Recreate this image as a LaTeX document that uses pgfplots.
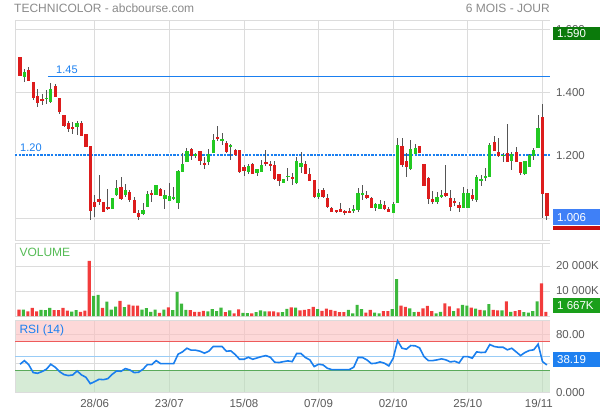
\documentclass[border=0pt]{standalone}
\usepackage{pgfplots}
\usepackage{pgfplotstable}
\usepackage{fontspec}
\setmainfont{Liberation Sans}
\pgfplotsset{compat=1.18}

\definecolor{gridgray}{HTML}{DCDCDC}
\definecolor{ticktext}{HTML}{5A5A5A}
\definecolor{titlegray}{HTML}{8A8A8A}
\definecolor{wick}{HTML}{555555}
\definecolor{candlered}{HTML}{DD1C1C}
\definecolor{candlegreen}{HTML}{22C922}
\definecolor{volred}{HTML}{F23C3C}
\definecolor{volgreen}{HTML}{3DB83D}
\definecolor{refblue}{HTML}{1A7FF0}
\definecolor{rsiblue}{HTML}{1A7FEE}
\definecolor{pinkfill}{HTML}{FCBEBE}
\definecolor{greenfill}{HTML}{BBDEBB}
\definecolor{line70}{HTML}{EE5A5A}
\definecolor{line50}{HTML}{99CCF6}
\definecolor{line30}{HTML}{5AAA5A}
\definecolor{boxgreen}{HTML}{0B7A0B}
\definecolor{boxblue}{HTML}{3F80F7}
\definecolor{boxvol}{HTML}{1A9F1A}
\definecolor{boxrsi}{HTML}{1E80F0}
\definecolor{boxred}{HTML}{C81010}
\definecolor{vollabel}{HTML}{55BB55}

\newcommand\tickfont{\fontsize{11.5bp}{13bp}\selectfont}
\newcommand\titlefont{\fontsize{12bp}{14bp}\selectfont}
\newcommand\lblfont{\fontsize{11bp}{13bp}\selectfont}

% i = trading day (0 = 28/06), o h l c = price, k = candle up (1) / down (0),
% v = volume (K), w = volume bar up (1) / down (0), rsi = RSI(14)
\pgfplotstableread{
i o h l c k v w rsi
-17 1.512 1.512 1.451 1.451 0 2600 0 39.2
-16 1.449 1.475 1.433 1.463 1 2600 1 44.2
-15 1.472 1.480 1.436 1.436 0 1900 0 38.3
-14 1.433 1.433 1.375 1.380 0 3300 0 27.7
-13 1.387 1.409 1.353 1.366 0 1900 0 26.8
-12 1.377 1.394 1.359 1.372 0 2500 1 29.1
-11 1.379 1.406 1.364 1.383 1 2400 1 32.3
-10 1.369 1.430 1.366 1.409 1 3300 1 39.2
-9 1.419 1.425 1.385 1.385 0 2400 0 35.1
-8 1.383 1.383 1.330 1.337 0 2400 0 29.1
-7 1.329 1.329 1.290 1.292 0 3300 0 25.0
-6 1.301 1.308 1.275 1.282 0 2200 0 23.6
-5 1.290 1.306 1.267 1.284 0 1800 1 24.5
-4 1.290 1.309 1.263 1.301 1 2400 1 30.0
-3 1.303 1.309 1.260 1.260 0 1700 0 24.5
-2 1.267 1.267 1.226 1.226 0 2200 0 21.3
-1 1.230 1.230 0.994 1.022 0 22100 0 12.5
0 1.052 1.073 1.004 1.034 0 8100 1 15.3
1 1.061 1.137 1.041 1.051 0 8500 1 18.5
2 1.050 1.050 1.020 1.020 0 3300 0 18.0
3 1.036 1.091 1.025 1.028 0 5800 1 19.4
4 1.030 1.064 1.030 1.063 1 2600 1 25.4
5 1.073 1.121 1.070 1.094 1 3800 1 30.0
6 1.097 1.130 1.057 1.059 0 6100 0 29.5
7 1.073 1.108 1.068 1.089 1 3600 1 33.2
8 1.084 1.089 1.052 1.057 0 4600 0 31.4
9 1.057 1.066 1.015 1.017 0 4200 0 27.7
10 1.015 1.025 0.994 1.002 0 4200 0 28.2
11 1.013 1.047 1.010 1.025 1 2600 1 32.3
12 1.036 1.087 1.034 1.076 1 3200 1 38.7
13 1.080 1.089 1.052 1.074 0 1700 1 38.7
14 1.073 1.105 1.073 1.105 1 2600 1 44.2
15 1.092 1.095 1.070 1.070 0 1300 0 40.1
16 1.059 1.089 1.030 1.073 1 2600 1 40.1
17 1.055 1.112 1.055 1.070 1 3500 0 40.1
18 1.061 1.099 1.058 1.067 1 2400 1 40.1
19 1.049 1.154 1.030 1.150 1 9700 1 53.0
20 1.147 1.208 1.147 1.171 1 5000 1 56.2
21 1.179 1.221 1.177 1.214 1 2500 1 61.2
22 1.218 1.224 1.184 1.197 0 2400 0 58.5
23 1.197 1.206 1.190 1.203 1 1700 0 58.5
24 1.212 1.212 1.168 1.182 0 1700 0 57.1
25 1.174 1.194 1.157 1.169 0 2100 0 54.4
26 1.177 1.218 1.168 1.202 1 1900 1 57.1
27 1.207 1.267 1.207 1.247 1 2800 1 63.6
28 1.258 1.292 1.244 1.251 0 2000 1 63.6
29 1.245 1.270 1.232 1.251 1 3400 1 63.6
30 1.240 1.245 1.207 1.210 0 1600 0 57.1
31 1.226 1.234 1.186 1.231 1 2300 1 57.6
32 1.216 1.220 1.198 1.200 0 1100 0 52.6
33 1.216 1.216 1.144 1.147 0 2700 0 46.0
34 1.161 1.168 1.135 1.148 0 1300 1 46.0
35 1.146 1.171 1.140 1.165 1 1200 1 48.8
36 1.173 1.175 1.140 1.140 0 1100 0 46.0
37 1.144 1.155 1.133 1.155 1 1600 1 47.9
38 1.147 1.184 1.147 1.168 1 2300 1 49.7
39 1.178 1.216 1.165 1.171 0 1900 1 51.1
40 1.173 1.182 1.150 1.167 0 1900 0 48.8
41 1.168 1.180 1.121 1.125 0 1900 0 42.0
42 1.139 1.139 1.103 1.118 0 1500 0 41.5
43 1.112 1.123 1.112 1.123 1 1600 1 42.8
44 1.130 1.158 1.118 1.134 1 2900 1 43.8
45 1.129 1.142 1.105 1.123 0 3500 0 42.8
46 1.112 1.194 1.108 1.181 1 3400 1 53.9
47 1.162 1.210 1.142 1.175 1 2300 0 53.9
48 1.173 1.182 1.140 1.140 0 2500 0 48.4
49 1.140 1.158 1.118 1.118 0 2800 0 45.2
50 1.121 1.121 1.063 1.068 0 3700 0 36.0
51 1.066 1.091 1.059 1.078 1 2800 1 39.2
52 1.089 1.095 1.063 1.066 0 2100 0 38.3
53 1.063 1.076 1.031 1.034 0 3000 0 33.7
54 1.031 1.036 1.020 1.020 0 2500 0 31.8
55 1.026 1.026 1.017 1.020 0 2100 0 31.8
56 1.029 1.049 1.020 1.020 0 1600 0 31.8
57 1.023 1.025 1.010 1.018 0 1600 0 31.8
58 1.021 1.033 1.016 1.017 0 2500 1 31.8
59 1.023 1.041 1.017 1.030 1 1100 1 35.1
60 1.025 1.094 1.020 1.078 1 4500 1 48.4
61 1.075 1.105 1.057 1.079 1 2800 1 48.4
62 1.073 1.085 1.059 1.063 0 1400 0 45.2
63 1.063 1.068 1.031 1.031 0 2500 0 40.1
64 1.031 1.049 1.023 1.044 1 1400 1 40.6
65 1.029 1.057 1.029 1.044 1 1100 1 42.4
66 1.040 1.054 1.025 1.028 0 2000 0 40.6
67 1.029 1.036 1.020 1.020 0 2000 0 36.9
68 1.017 1.052 1.017 1.043 1 2800 1 47.5
69 1.049 1.255 1.049 1.233 1 14800 1 71.4
70 1.229 1.253 1.161 1.168 0 4200 0 61.2
71 1.181 1.207 1.131 1.161 0 3700 0 59.9
72 1.155 1.247 1.152 1.218 1 3100 1 64.9
73 1.203 1.236 1.203 1.221 1 1600 1 64.5
74 1.229 1.229 1.206 1.206 0 1700 0 61.7
75 1.173 1.173 1.102 1.102 0 3100 0 49.7
76 1.126 1.131 1.044 1.059 0 4100 0 44.2
77 1.060 1.086 1.044 1.052 0 2000 0 44.2
78 1.052 1.083 1.044 1.066 1 1100 1 45.2
79 1.068 1.089 1.063 1.073 1 1700 1 46.6
80 1.078 1.168 1.066 1.070 0 5100 0 45.2
81 1.063 1.089 1.023 1.036 0 3900 0 42.4
82 1.054 1.063 1.038 1.047 0 2000 1 43.3
83 1.041 1.052 1.020 1.031 0 3100 0 41.0
84 1.031 1.097 1.031 1.078 1 4500 1 49.7
85 1.031 1.092 1.031 1.078 1 4200 1 49.7
86 1.073 1.091 1.055 1.059 0 3400 0 47.5
87 1.057 1.137 1.052 1.131 1 3000 1 56.2
88 1.120 1.137 1.103 1.124 1 2500 0 55.3
89 1.128 1.158 1.117 1.132 1 2300 1 55.7
90 1.131 1.237 1.131 1.232 1 4800 1 66.3
91 1.241 1.261 1.213 1.213 0 2500 0 63.6
92 1.211 1.253 1.194 1.197 0 2300 0 62.6
93 1.197 1.208 1.177 1.201 1 2300 1 62.6
94 1.208 1.298 1.177 1.177 0 5900 0 59.0
95 1.182 1.210 1.152 1.205 1 1700 1 61.2
96 1.210 1.226 1.177 1.177 0 2000 0 56.2
97 1.177 1.177 1.137 1.142 0 2400 0 51.1
98 1.140 1.181 1.137 1.181 1 1600 1 55.3
99 1.163 1.202 1.163 1.200 1 1400 1 58.1
100 1.197 1.221 1.184 1.216 1 2000 1 59.0
101 1.223 1.327 1.223 1.285 1 5900 1 66.8
102 1.322 1.364 0.999 1.075 0 13100 0 42.8
103 1.078 1.078 0.994 1.006 0 1667 0 38.19
}\prices

\tikzset{frame/.style={draw=gridgray, line width=0.8bp}}
\pgfplotsset{
  panel/.style={
    scale only axis, width=535bp, anchor=north west,
    xmin=-18.15, xmax=103.71,
    axis line style={draw=none},
    major tick length=0pt,
    grid=major, grid style={draw=gridgray, line width=0.8bp},
    xtick={0,17,34,51,68,85,102},
    xticklabels={},
    scaled y ticks=false,
    yticklabel pos=right,
    yticklabel style={font=\tickfont, text=ticktext, anchor=west, xshift=2.5bp},
    clip=false,
  },
}

\begin{document}
\begin{tikzpicture}
\useasboundingbox (0,0) rectangle (600bp,-414bp);

% price panel
\begin{axis}[panel, at={(15bp,-20bp)}, height=220bp,
  ymin=0.930, ymax=1.6296, ytick={1.0,1.2,1.4,1.6},
  yticklabels={1.000,1.200,1.400,1.600}]
  \draw[frame] (rel axis cs:1,1) -- (rel axis cs:0,1) -- (rel axis cs:0,0) -- (rel axis cs:1,0);
  \draw[refblue, line width=1bp] (axis cs:-10.64,1.45) -- (axis cs:103.71,1.45);
  \fill[white] (axis cs:-18.15,1.196) rectangle (axis cs:103.71,1.206);
  \draw[draw=refblue, line width=1.3bp, dash pattern=on 2.4bp off 1.2bp] (axis cs:-18.15,1.2) -- (axis cs:103.71,1.2);
  \node[anchor=base west, inner sep=0, text=refblue, font=\lblfont] at (axis cs:-8.8,1.458) {1.45};
  \node[anchor=base west, inner sep=0, text=refblue, font=\lblfont] at (axis cs:-17.0,1.210) {1.20};
  % wicks: high-low
  \addplot[draw=none, mark=none, forget plot,
    error bars/y dir=both, error bars/y explicit, error bars/error mark=none,
    error bars/error bar style={line width=0.9bp, draw=wick}]
    table[x=i, y expr={(\thisrow{h}+\thisrow{l})/2}, y error expr={(\thisrow{h}-\thisrow{l})/2}] {\prices};
  % bodies: open-close
  \addplot[draw=none, mark=none, forget plot,
    restrict expr to domain={\thisrow{k}}{0.5:1.5},
    error bars/y dir=both, error bars/y explicit, error bars/error mark=none,
    error bars/error bar style={line width=3.3bp, draw=candlegreen}]
    table[x=i, y expr={(\thisrow{o}+\thisrow{c})/2}, y error expr={abs(\thisrow{o}-\thisrow{c})/2}] {\prices};
  \addplot[draw=none, mark=none, forget plot,
    restrict expr to domain={\thisrow{k}}{-0.5:0.5},
    error bars/y dir=both, error bars/y explicit, error bars/error mark=none,
    error bars/error bar style={line width=3.3bp, draw=candlered}]
    table[x=i, y expr={(\thisrow{o}+\thisrow{c})/2}, y error expr={abs(\thisrow{o}-\thisrow{c})/2}] {\prices};
\end{axis}

% volume panel
\begin{axis}[panel, at={(15bp,-243bp)}, height=73bp,
  ymin=0, ymax=29200, ytick={0,10000,20000},
  yticklabels={,10 000K,20 000K}]
  \draw[frame] (rel axis cs:1,1) -- (rel axis cs:0,1) -- (rel axis cs:0,0) -- (rel axis cs:1,0);
  \addplot[ybar, bar width=3.1bp, bar shift=-1bp, fill=volgreen, draw=none,
    restrict expr to domain={\thisrow{w}}{0.5:1.5}]
    table[x=i, y=v] {\prices};
  \addplot[ybar, bar width=3.1bp, bar shift=-1bp, fill=volred, draw=none,
    restrict expr to domain={\thisrow{w}}{-0.5:0.5}]
    table[x=i, y=v] {\prices};
\end{axis}

% RSI panel
\begin{axis}[panel, at={(15bp,-320bp)}, height=72.75bp,
  ymin=0, ymax=100, ytick={0,40,80}, yticklabels={0.000,,80.00},
  xticklabels={28/06,23/07,15/08,07/09,02/10,25/10,\hspace*{-7.2bp}19/11},
  xticklabel style={font=\tickfont, text=ticktext, yshift=-2.5bp}]
  \fill[pinkfill, fill opacity=0.6] (axis cs:-18.15,70) rectangle (axis cs:103.71,100);
  \fill[greenfill, fill opacity=0.6] (axis cs:-18.15,0) rectangle (axis cs:103.71,30);
  \draw[frame] (rel axis cs:1,1) -- (rel axis cs:0,1) -- (rel axis cs:0,0) -- (rel axis cs:1,0);
  \draw[line70, line width=1bp] (axis cs:-18.15,70) -- (axis cs:103.71,70);
  \draw[line50, line width=1bp] (axis cs:-18.15,50) -- (axis cs:103.71,50);
  \draw[line30, line width=1bp] (axis cs:-18.15,30) -- (axis cs:103.71,30);
  \addplot[rsiblue, line width=1.6bp, mark=none] table[x=i, y=rsi] {\prices};
\end{axis}

% titles and panel labels
\node[anchor=base west, inner sep=0, text=titlegray, font=\titlefont] at (14bp,-12.7bp) {TECHNICOLOR - abcbourse.com};
\node[anchor=base east, inner sep=0, text=titlegray, font=\titlefont] at (550bp,-12.7bp) {6 MOIS - JOUR};
\node[anchor=base west, inner sep=0, text=vollabel, font=\titlefont] at (19.3bp,-256bp) {VOLUME};
\node[anchor=base west, inner sep=0, text=refblue, font=\titlefont] at (19.3bp,-333.5bp) {RSI (14)};

% last-value boxes
\fill[boxgreen] (553bp,-27.3bp) rectangle (600bp,-40bp);
\node[anchor=west, inner sep=0, text=white, font=\tickfont] at (557bp,-33.6bp) {1.590};
\fill[boxblue] (553bp,-209.3bp) rectangle (600bp,-225.3bp);
\fill[boxred] (553bp,-226bp) rectangle (600bp,-230bp);
\node[anchor=west, inner sep=0, text=white, font=\tickfont] at (557bp,-217.3bp) {1.006};
\fill[boxvol] (553bp,-298.3bp) rectangle (600bp,-313.3bp);
\node[anchor=west, inner sep=0, text=white, font=\tickfont] at (557bp,-305.8bp) {1 667K};
\fill[boxrsi] (553bp,-352bp) rectangle (600bp,-366.7bp);
\node[anchor=west, inner sep=0, text=white, font=\tickfont] at (557bp,-359.3bp) {38.19};
\end{tikzpicture}
\end{document}
